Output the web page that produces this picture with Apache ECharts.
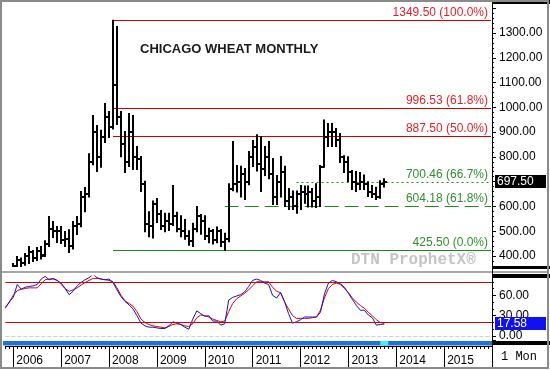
<!DOCTYPE html>
<html>
<head>
<meta charset="utf-8">
<script src="https://cdn.jsdelivr.net/npm/echarts@6/dist/echarts.min.js"></script>
<style>
html,body{margin:0;padding:0;background:#fff;}
#chart{width:550px;height:370px;}
</style>
</head>
<body>
<div id="chart"></div>
<script>
// ---- DATA (monthly, Nov 2005 .. Oct 2013) ----
const firstMonth = '2005-11';
const openP  = [320,330,345,360,385,370,400,415,390,420,405,450,510,500,500,465,470,440,520,530,640,650,780,900,800,880,960,920,1090,960,850,780,900,800,790,690,530,520,610,570,520,540,530,560,510,500,480,460,510,560,540,480,500,465,500,455,470,670,690,700,730,700,800,840,770,750,800,730,640,700,740,620,640,600,650,660,650,660,620,640,760,880,900,900,870,800,780,740,700,690,700,690,660,650,640,690];
const highP  = [335,350,368,396,390,408,436,420,432,436,460,557,537,517,517,497,504,537,557,658,674,811,965,925,905,1013,981,1349.5,1324,981,900,973,965,840,800,700,577,620,630,582,570,570,682,575,560,545,500,530,598,565,560,510,505,515,505,490,690,860,763,760,751,820,864,887,880,840,860,791,723,800,760,670,660,660,682,680,680,670,690,763,947,933,933,913,892,803,799,743,739,735,725,698,682,675,702,710];
const lowP   = [312,322,340,350,355,365,372,380,384,390,400,440,477,456,452,440,416,430,489,520,581,640,770,743,760,860,880,915,933,803,739,763,751,751,662,500,480,475,537,509,500,505,525,500,480,470,445,440,500,490,469,455,450,455,440,425.5,460,665,660,640,630,690,763,745,662,727,714,610,610,640,602,590,590,575,590,615,600,600,598,602,760,844,844,844,779,739,703,670,662,670,670,642,638,630,635,680];
const closeP = [330,345,360,385,370,400,415,390,420,400,450,510,500,500,465,470,440,520,530,640,650,780,900,800,880,960,920,1090,960,850,780,900,800,790,690,530,520,610,570,520,540,530,560,510,500,480,460,510,560,540,480,500,465,500,455,470,670,690,700,730,700,800,840,770,750,800,730,640,700,740,620,640,600,650,660,650,660,620,640,760,880,900,900,870,800,780,740,700,690,700,690,660,650,640,690,697.5];
const stochK = [42,50,57,76,69,72,73,74,76,84,88,83,85,82,78,70,61,66,74,79,83,86,91,86,84,83,84,79,68,58,51,46,40,30,19,15,13,13,12,11,11,15,21,19,17,13,10,25,37,33,29,30,22,22,16,18,53,57,59,61,65,73,82,84,82,78,76,60,56,64,51,33,19,21,24,28,28,28,28,35,62,78,82,80,77,72,63,54,45,38,38,31,27,16,17,17.58];
const stochD = [41,50,60,67,69,70,71,71,71,77,83,84,84,82,76,70,66,68,71,75,79,82,85,85,84,83,82,80,71,60,52,48,44,36,25,20,17,15,14,13,12,14,17,18,17,15,14,18,27,31,30,28,25,23,21,22,36,48,55,59,63,68,74,80,80,80,80,72,66,64,50,40,30,26,26,26,26,27,28,38,56,70,76,78,76,70,64,56,50,45,41,35,30,24,20,18.5];
const yearLabels = ['2006','2007','2008','2009','2010','2011','2012','2013','2014','2015'];
const priceTickMax = 1300;
const fibLevels = [1349.5, 996.53, 887.5, 700.46, 604.18, 425.5];
const fibLabels = ['1349.50 (100.0%)','996.53 (61.8%)','887.50 (50.0%)','700.46 (66.7%)','604.18 (61.8%)','425.50 (0.0%)'];
const fibStart  = ['2008-02','2008-02','2008-02','2011-12','2010-06','2008-02'];
const stochLevels = [80, 20];
const currentMonths = ['2013-09','2013-11'];
const titleText = 'CHICAGO WHEAT MONTHLY';
const watermark = 'DTN ProphetX\u00ae';
const periodText = '1 Mon';

// ---- categories: Nov 2005 .. Jan 2016 ----
const cats = [];
(function(){
  let y = +firstMonth.slice(0,4), m = +firstMonth.slice(5,7);
  while (!(y === 2016 && m === 2)) {
    cats.push(y + '-' + String(m).padStart(2,'0'));
    m++; if (m > 12) { m = 1; y++; }
  }
})();

const FONT = '"Liberation Sans", Arial, sans-serif';
const ohlcRows = openP.map((o,k)=>[k, o, highP[k], lowP[k], closeP[k]]);
const fibRows = fibLevels.map((v,k)=>[cats.indexOf(fibStart[k]), v, k]);
const lastIdx = closeP.length - 1;

const fibLineColor = ['#d40000','#d40000','#d40000','#1e8a1e','#1e8a1e','#1e8a1e'];
const fibTextColor = ['#e3212b','#e3212b','#e3212b','#2f8f2f','#2f8f2f','#2f8f2f'];
const fibDash = [[],[],[],[2,3],[14,6],[]];

function renderOHLC(params, api){
  const i = api.value(0);
  const o = api.coord([i, api.value(1)]);
  const h = api.coord([i, api.value(2)]);
  const l = api.coord([i, api.value(3)]);
  const c = api.coord([i, api.value(4)]);
  const x = Math.round(h[0]);
  const st = {stroke:'#000', lineWidth:2};
  return {type:'group', children:[
    {type:'line', shape:{x1:x, y1:h[1]-1, x2:x, y2:l[1]+1}, style:st},
    {type:'line', shape:{x1:x-3, y1:Math.round(o[1]), x2:x, y2:Math.round(o[1])}, style:st},
    {type:'line', shape:{x1:x, y1:Math.round(c[1]), x2:x+3, y2:Math.round(c[1])}, style:st}
  ]};
}

// snap a level to a whole pixel row (pairs of rows keep thin coloured lines crisp)
function fibY(p){ return 2 * Math.round(p / 2) + 0.5; }

function renderFibLine(params, api){
  const k = api.value(2);
  const p = api.coord([api.value(0), api.value(1)]);
  const cs = params.coordSys;
  const xEnd = cs.x + cs.width - 1;
  const y = fibY(p[1]);
  return {type:'line', shape:{x1:p[0], y1:y, x2:xEnd, y2:y},
    style:{stroke: fibLineColor[k], fill:null, lineWidth: 1, lineDash: fibDash[k]}};
}

function renderFibText(params, api){
  const k = api.value(2);
  const p = api.coord([api.value(0), api.value(1)]);
  const cs = params.coordSys;
  const xEnd = cs.x + cs.width - 1;
  const y = fibY(p[1]);
  return {type:'text', style:{text: fibLabels[k], x: xEnd - 3, y: y - 2, align:'right', verticalAlign:'bottom',
    fill: fibTextColor[k], stroke:null, font: '12px ' + FONT}};
}

function renderTag(bg){
  return function(params, api){
    const p = api.coord([api.value(0), api.value(1)]);
    const cs = params.coordSys;
    const x0 = cs.x + cs.width + 3;
    const y = Math.round(p[1]);
    return {type:'group', children:[
      {type:'rect', shape:{x:x0, y:y-7, width:51, height:13}, style:{fill:bg}},
      {type:'text', style:{text: api.value(1).toFixed(2), x:x0+2, y:y, verticalAlign:'middle', align:'left', fill:'#fff', font:'12px ' + FONT}}
    ]};
  };
}

function renderCurrent(params, api){
  const a = api.coord([api.value(0), 0]);
  const b = api.coord([api.value(1), 0]);
  return {type:'rect', shape:{x:a[0], y:341, width:b[0]-a[0], height:4.5}, style:{fill:'#3ef2ee'}};
}

const hiddenCat = (g) => ({type:'category', gridIndex:g, data:cats, boundaryGap:false, show:false});

const option = {
  animation:false,
  backgroundColor:'#fff',
  title:{text:titleText, left:140, top:43, padding:0,
    textStyle:{fontSize:13, fontWeight:'bold', color:'#1a1a1a', fontFamily:FONT}},
  grid:[
    {left:5.3, right:58, top:3, height:264},
    {left:5.3, right:58, top:276, height:64},
    {left:5.3, right:58, top:345, height:1},
    {left:5.3, right:58, top:346, height:22}
  ],
  xAxis:[
    hiddenCat(0),
    hiddenCat(1),
    {type:'category', gridIndex:2, data:cats, boundaryGap:false, position:'bottom',
      axisLine:{show:true, lineStyle:{color:'#000', width:1}},
      axisTick:{show:true, interval:0, length:3, lineStyle:{color:'#000'}},
      axisLabel:{show:false}, splitLine:{show:false}},
    {type:'category', gridIndex:3, data:cats, boundaryGap:false, position:'bottom',
      axisLine:{show:false}, axisTick:{show:false},
      splitLine:{show:true, interval:(i,v)=>v.endsWith('-01'), lineStyle:{color:'#000', width:1}},
      axisLabel:{show:true, inside:true, margin:1, interval:(i,v)=>v.endsWith('-01') && yearLabels.indexOf(v.slice(0,4))>=0,
        formatter:(v)=>yearLabels[yearLabels.indexOf(v.slice(0,4))], align:'left', padding:[0,0,0,3],
        fontSize:12, color:'#000', fontFamily:FONT}}
  ],
  yAxis:[
    {type:'value', gridIndex:0, position:'right', min:355.6, max:1421, splitNumber:10,
      axisLine:{show:true, lineStyle:{color:'#000'}},
      axisTick:{show:true, length:4, lineStyle:{color:'#000'}},
      minorTick:{show:true, splitNumber:5, length:2, lineStyle:{color:'#000'}},
      splitLine:{show:false},
      axisLabel:{formatter:(v)=> v <= priceTickMax ? v.toFixed(2) : '', showMinLabel:false, showMaxLabel:false, margin:7, fontSize:12, color:'#000', fontFamily:FONT}},
    {type:'value', gridIndex:1, position:'right', min:-5.9, max:88.5, splitNumber:3,
      axisLine:{show:true, lineStyle:{color:'#000'}},
      axisTick:{show:true, length:4, lineStyle:{color:'#000'}},
      minorTick:{show:true, splitNumber:3, length:2, lineStyle:{color:'#000'}},
      splitLine:{show:false},
      axisLabel:{formatter:(v)=>v.toFixed(2), showMinLabel:false, showMaxLabel:false, margin:7, fontSize:12, color:'#000', fontFamily:FONT}},
    {type:'value', gridIndex:2, show:false},
    {type:'value', gridIndex:3, show:false}
  ],
  graphic:[
    {type:'rect', z:100, shape:{x:1, y:1, width:547, height:367}, style:{fill:null, stroke:'#8a8a8a', lineWidth:2}, silent:true},
    {type:'rect', shape:{x:492, y:0, width:58, height:4}, style:{fill:'#000'}, silent:true},
    {type:'rect', shape:{x:492, y:266, width:58, height:3}, style:{fill:'#000'}, silent:true},
    {type:'rect', shape:{x:2, y:271, width:547, height:2}, style:{fill:'#a8a8a8'}, silent:true},
    {type:'rect', shape:{x:492, y:274, width:58, height:4}, style:{fill:'#000'}, silent:true},
    {type:'rect', shape:{x:3, y:341, width:489, height:4.5}, style:{fill:'#1f74d6'}, silent:true},
    {type:'rect', shape:{x:492, y:341, width:58, height:4}, style:{fill:'#000'}, silent:true},
    {type:'line', shape:{x1:492.5, y1:0, x2:492.5, y2:368}, style:{stroke:'#000', lineWidth:1}, silent:true},
    {type:'text', left:351, top:252, style:{text:watermark, fill:'#c4c4c4', font:'bold 16px "Liberation Mono", "Courier New", monospace'}, silent:true},
    {type:'text', left:501, top:351, style:{text:periodText, fill:'#000', font:'12px "Liberation Mono", "Courier New", monospace'}, silent:true}
  ],
  series:[
    {type:'custom', name:'fibLines', xAxisIndex:0, yAxisIndex:0, renderItem:renderFibLine,
      encode:{x:0, y:1}, data:fibRows, z:2},
    {type:'custom', name:'fibText', xAxisIndex:0, yAxisIndex:0, renderItem:renderFibText,
      encode:{x:0, y:1}, data:fibRows, z:2},
    {type:'custom', name:'price', xAxisIndex:0, yAxisIndex:0, clip:true, renderItem:renderOHLC,
      encode:{x:0, y:[1,2,3,4]}, data:ohlcRows, z:3},
    {type:'custom', name:'lastPrice', xAxisIndex:0, yAxisIndex:0, renderItem:renderTag('#000'),
      encode:{x:0, y:1}, data:[[lastIdx, closeP[lastIdx]]], z:5},
    {type:'line', name:'%K', xAxisIndex:1, yAxisIndex:1, data:stochK, symbol:'none',
      lineStyle:{color:'#1414c8', width:1}, itemStyle:{color:'#1414c8'}, z:4,
      markLine:{silent:true, symbol:'none', label:{show:false},
        data:[
          {yAxis:stochLevels[0], lineStyle:{color:'#d80000', width:1, type:'solid'}},
          {yAxis:stochLevels[1], lineStyle:{color:'#d80000', width:1, type:'solid'}},
          {yAxis:0, lineStyle:{color:'#cfcfcf', width:1, type:'dashed'}}
        ]}},
    {type:'line', name:'%D', xAxisIndex:1, yAxisIndex:1, data:stochD, symbol:'none',
      lineStyle:{color:'#e00000', width:1}, itemStyle:{color:'#e00000'}, z:3},
    {type:'custom', name:'lastK', xAxisIndex:1, yAxisIndex:1, renderItem:renderTag('#1010f0'),
      encode:{x:0, y:1}, data:[[lastIdx, stochK[lastIdx]]], z:5},
    {type:'custom', name:'current', xAxisIndex:2, yAxisIndex:2, renderItem:renderCurrent,
      encode:{x:[0,1]}, data:[[cats.indexOf(currentMonths[0]), cats.indexOf(currentMonths[1])]], z:5}
  ]
};

const chart = echarts.init(document.getElementById('chart'), null, {renderer:'canvas'});
chart.setOption(option);
</script>
</body>
</html>
